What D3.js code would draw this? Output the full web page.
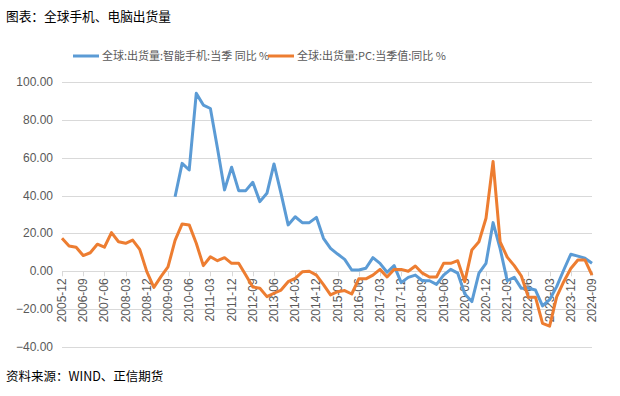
<!DOCTYPE html>
<html>
<head>
<meta charset="utf-8">
<script src="https://cdn.jsdelivr.net/npm/d3@7"></script>
<style>
  body { margin: 0; background: #fff; }
  svg { display: block; font-family: "Liberation Sans", "Noto Sans CJK SC", sans-serif; }
  .cjk { font-family: "Noto Sans CJK SC", sans-serif; }
</style>
</head>
<body>
<svg id="chart"></svg>
<script>
const width = 620;
const height = 396;

// quarterly, 2005-12 .. 2024-09
const startYear = 2005;
const startMonth = 12;
const quarterCount = 76;

const phoneName = "全球:出货量:智能手机:当季 同比 %";
const pcName = "全球:出货量:PC:当季值:同比 %";

// smartphone yoy, starts 2009-12
const phoneStart = 16;
const phoneValues = [
  39.4, 57, 53.5, 94, 87.8, 86, 65, 43, 55, 42.6, 42.6, 47, 36.8, 41.2, 56.7,
  41, 24.5, 28.8, 25.7, 25.7, 28.5, 17.4, 12.1, 9.1, 6.3, 0.7, 0.7, 1.6, 7.2,
  4.2, -0.5, 3, -6, -3.2, -2, -5, -5, -6.9, -2, 1, -1, -12, -16, -1, 4.2, 25.7,
  12, -5, -3.2, -9, -9, -9.9, -18.3, -15, -8.1, 0.7, 9, 8, 6.9, 4.2
];

const pcValues = [
  17.4, 13.4, 12.7, 8.3, 9.8, 14.3, 12.7, 20.4, 15.6, 14.8, 16.5, 11.6, -0.2,
  -8.5, -2.8, 2.3, 16.3, 25, 24.5, 14.8, 3, 7.7, 5.6, 7.2, 4.2, 4.2, -2, -8.3,
  -9, -13.4, -11.6, -9.9, -5.5, -3.7, -0.3, 0, -2, -7, -12.5, -10.8, -10.2, -12,
  -4, -4, -2, 1, -3, 1, 1, 0, 2.8, -1, -3, -3, 4.2, 4.2, 5.6, -5.5, 11.3, 15.6,
  28, 58, 15.6, 7.5, 3, -2.5, -13.7, -13.7, -27.5, -29, -13.5, -5.5, 1.5, 6, 6, -2
];

const yTicks = [100, 80, 60, 40, 20, 0, -20, -40];

const quarters = d3.range(quarterCount).map((i) => {
  const m = startMonth - 1 + i * 3;
  const y = startYear + Math.floor(m / 12);
  return y + "-" + String((m % 12) + 1).padStart(2, "0");
});

const margin = { left: 62, right: 28, top: 82, bottom: 49 };

const svg = d3.select("#chart").attr("width", width).attr("height", height);

const x = d3
  .scalePoint()
  .domain(quarters)
  .range([margin.left, width - margin.right]);

const y = d3
  .scaleLinear()
  .domain([-40, 100])
  .range([height - margin.bottom, margin.top]);

// gridlines
svg
  .append("g")
  .selectAll("line")
  .data(yTicks)
  .enter()
  .append("line")
  .attr("x1", margin.left)
  .attr("x2", width - margin.right)
  .attr("y1", (d) => Math.round(y(d)) + 0.5)
  .attr("y2", (d) => Math.round(y(d)) + 0.5)
  .attr("stroke", "#d9d9d9")
  .attr("stroke-width", 1);

// y labels
svg
  .append("g")
  .selectAll("text")
  .data(yTicks)
  .enter()
  .append("text")
  .attr("x", 53)
  .attr("y", (d) => y(d) + 4)
  .attr("text-anchor", "end")
  .attr("font-size", 12)
  .attr("fill", "#595959")
  .text((d) => d3.format(".2f")(d));

// x ticks + labels, every 3rd quarter
const labelled = quarters.filter((d, i) => i % 3 === 0);

const xg = svg.append("g");
xg.selectAll("line")
  .data(labelled)
  .enter()
  .append("line")
  .attr("x1", (d) => Math.round(x(d)) + 0.5)
  .attr("x2", (d) => Math.round(x(d)) + 0.5)
  .attr("y1", y(0))
  .attr("y2", y(0) + 5)
  .attr("stroke", "#d9d9d9");

xg.selectAll("text")
  .data(labelled)
  .enter()
  .append("text")
  .attr("transform", (d) => "translate(" + (x(d) + 4) + "," + (y(0) + 7) + ") rotate(-90)")
  .attr("text-anchor", "end")
  .attr("font-size", 12)
  .attr("fill", "#595959")
  .text((d) => d);

// series
const line = d3
  .line()
  .defined((d) => d.v != null)
  .x((d) => x(d.q))
  .y((d) => y(d.v));

const phoneData = quarters.map((q, i) => ({
  q: q,
  v: i >= phoneStart ? phoneValues[i - phoneStart] : null
}));
const pcData = quarters.map((q, i) => ({ q: q, v: pcValues[i] }));

svg
  .append("path")
  .datum(phoneData)
  .attr("fill", "none")
  .attr("stroke", "#5B9BD5")
  .attr("stroke-width", 3)
  .attr("stroke-linejoin", "round")
  .attr("d", line);

svg
  .append("path")
  .datum(pcData)
  .attr("fill", "none")
  .attr("stroke", "#ED7D31")
  .attr("stroke-width", 3)
  .attr("stroke-linejoin", "round")
  .attr("d", line);

// legend
const legendItems = [
  { name: phoneName, color: "#5B9BD5", x: 73 },
  { name: pcName, color: "#ED7D31", x: 268 }
];
const legend = svg
  .append("g")
  .selectAll("g")
  .data(legendItems)
  .enter()
  .append("g")
  .attr("transform", (d) => "translate(" + d.x + ",56)");
legend
  .append("line")
  .attr("x1", 0)
  .attr("x2", 26)
  .attr("stroke", (d) => d.color)
  .attr("stroke-width", 3);
legend
  .append("text")
  .attr("class", "cjk")
  .attr("x", 29)
  .attr("y", 4)
  .attr("font-size", 11)
  .attr("fill", "#595959")
  .attr("xml:space", "preserve")
  .text((d) => d.name);

// title and source
svg
  .append("text")
  .attr("class", "cjk")
  .attr("x", 6)
  .attr("y", 21)
  .attr("font-size", 12.7)
  .attr("fill", "#000")
  .text("图表：全球手机、电脑出货量");

svg
  .append("text")
  .attr("class", "cjk")
  .attr("x", 6)
  .attr("y", 381)
  .attr("font-size", 12.5)
  .attr("fill", "#000")
  .text("资料来源：WIND、正信期货");
</script>
</body>
</html>
